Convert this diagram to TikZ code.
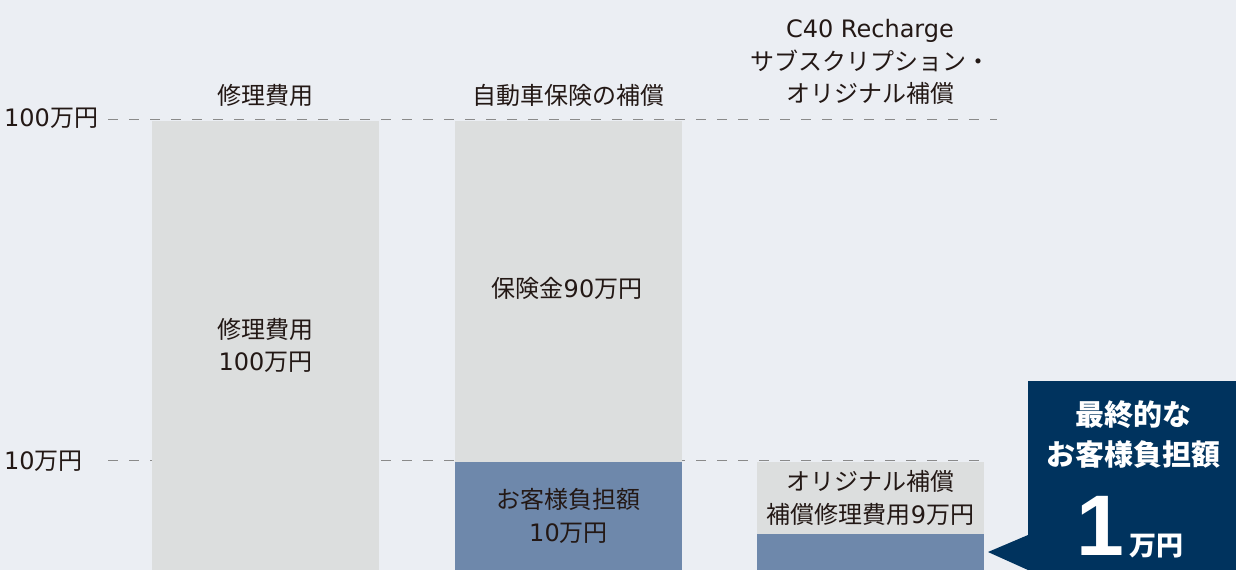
\documentclass[tikz,border=0pt]{standalone}
\usepackage{fontspec}
\setmainfont{Noto Sans CJK JP}
\newfontfamily\latinfont{DejaVu Sans}
\newfontfamily\figurefont{Liberation Sans}
\newcommand\lat[1]{{\latinfont #1}}
\usetikzlibrary{positioning}
\definecolor{bgBlue}{HTML}{EBEEF3}
\definecolor{barGray}{HTML}{DCDEDE}
\definecolor{partBlue}{HTML}{6E88AB}
\definecolor{navyBlue}{HTML}{00335E}
\definecolor{ink}{HTML}{231815}
\definecolor{guideGray}{HTML}{8A8A8A}
\tikzset{
  bar/.style={fill=barGray, inner sep=0pt, outer sep=0pt, minimum width=227pt, anchor=north west},
  part/.style={bar, fill=partBlue},
  label/.style={text=ink, font=\fontsize{24}{32.5}\selectfont, align=center, inner sep=0pt},
  guide/.style={draw=guideGray, line width=1.5pt, dash pattern=on 10pt off 11pt},
}

\begin{document}
\begin{tikzpicture}[x=1pt, y=-1pt]

  \newcommand\W{227}

  \fill[bgBlue] (0,0) rectangle (1236,570);
  \useasboundingbox (0,0) rectangle (1236,570);

  % guide lines
  \coordinate (g100a) at (108,119.5);
  \coordinate (g100b) at (997,119.5);
  \coordinate (g10a) at (108,460.5);
  \coordinate (g10b) at (985,460.5);
  \draw[guide] (g100a) -- (g100b);
  \draw[guide] (g10a) -- (g10b);
  \node[label, anchor=west] (t100) at (4,118) {\lat{100}万円};
  \node[label, anchor=west] (t10) at (4,461) {\lat{10}万円};

  % bars
  \node[bar, minimum height=449pt] (repair) at (152,121) {};
  \node[bar, minimum height=341pt] (insured) at (455,121) {};
  \node[part, minimum height=108pt] (ownA) at (455,462) {};
  \node[bar, minimum height=72pt] (orig) at (757,462) {};
  \node[part, minimum height=36pt] (ownB) at (757,534) {};

  % headings
  \node[label] (repairHead) at (265,95) {修理費用};
  \node[label] (insuredHead) at (568,95) {自動車保険の補償};
  \node[label] (origHead) at (870,62) {\lat{C40 Recharge}\\サブスクリプション・\\オリジナル補償};

  % bar texts
  \node[label] (repairText) at (repair.center) {修理費用\\\lat{100}万円};
  \node[label] (insuredText) at (567,288) {保険金\lat{90}万円};
  \node[label] (ownAText) at (ownA.center) {お客様負担額\\\lat{10}万円};
  \node[label] (origText) at (orig.center) {オリジナル補償\\補償修理費用\lat{9}万円};

  % final amount
  \node[fill=navyBlue, inner sep=0pt, outer sep=0pt, minimum width=208pt, minimum height=189pt, anchor=north west] (final) at (1028,381) {};
  \coordinate (tip) at (988,552);
  \fill[navyBlue] (tip) -- ([yshift=35pt]final.south west) -- (final.south west) -- cycle;
  \node[text=white, font=\fontsize{29}{40}\selectfont\bfseries, align=center, inner sep=0pt] (finalHead) at (1133,435) {最終的な\\お客様負担額};
  \node[text=white, font=\fontsize{27}{27}\selectfont\bfseries, inner sep=0pt, anchor=base] (finalSum) at (1130,555) {\smash{\fontsize{86}{86}\selectfont\figurefont\bfseries 1}\hspace{5pt}万円};

\end{tikzpicture}
\end{document}
